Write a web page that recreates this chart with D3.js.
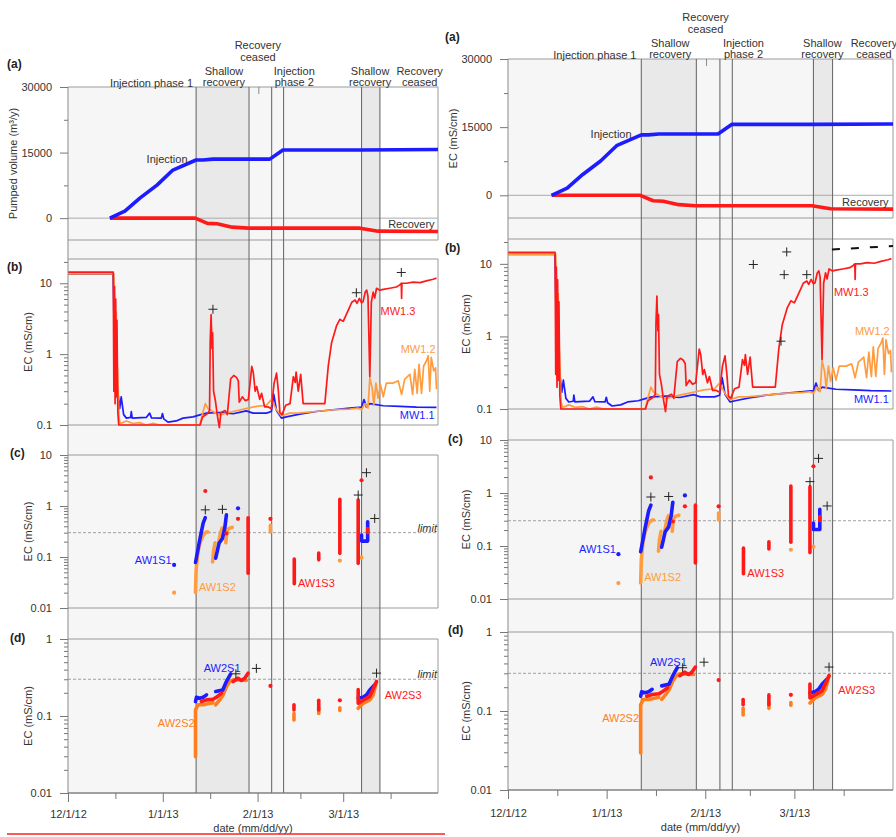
<!DOCTYPE html>
<html>
<head>
<meta charset="utf-8">
<script src="https://cdnjs.cloudflare.com/ajax/libs/d3/7.8.5/d3.min.js"></script>
<style>
  body { margin: 0; background: #fff; }
  svg { display: block; }
</style>
</head>
<body>
<svg id="chart" width="896" height="837"></svg>
<script>
// ---------------------------------------------------------------------------
// Data. Times are days elapsed since 1 Dec 2012.
// ---------------------------------------------------------------------------
const recordStart = new Date(2012, 11, 1);
const recordEnd = new Date(2013, 3, 1);

// Operational phase boundaries (vertical lines) and shaded shallow-recovery periods
const phaseBoundaries = [41.9, 59.2, 66.6, 70.5, 96.0, 102.0];
const shallowRecovery = [[41.9, 59.2], [96.0, 102.0]];
const recoveryCeasedMark = 62.4;
const monitoredUntil = 102.0;

// Phase captions: [text lines, day at caption centre, level (0 = single line, 1 = two lines, 2 = raised)]
const phaseCaptions = [
  [["Injection phase 1"], 27.3, 0],
  [["Shallow", "recovery"], 51.0, 1],
  [["Recovery", "ceased"], 62.1, 2],
  [["Injection", "phase 2"], 74.0, 1],
  [["Shallow", "recovery"], 98.8, 1],
  [["Recovery", "ceased"], 115.0, 1]
];

// Date axis
const monthTicks = [new Date(2012, 11, 1), new Date(2013, 0, 1), new Date(2013, 1, 1), new Date(2013, 2, 1)];
const monthLabels = ["12/1/12", "1/1/13", "2/1/13", "3/1/13"];
const midMonthTicks = [new Date(2012, 11, 16, 12), new Date(2013, 0, 16, 12), new Date(2013, 1, 15), new Date(2013, 2, 16, 12)];

// (a) cumulative pumped volume (m3/y)
const volumeDomain = [-5000, 30000];
const volumeTicks = [0, 15000, 30000];
const volumeMinorTicks = [7500, 22500];
const injectionVolume = [[13.7, 0], [18.6, 1600], [23.5, 4580], [29.1, 7560], [34.3, 11000], [41.9, 13300], [44.1, 13300],
  [47.4, 13500], [66.0, 13500], [70.3, 15600], [95.5, 15600], [121, 15700]];
const recoveryVolume = [[13.7, 0], [41.6, 0], [45.6, -1200], [48.8, -1300], [53.7, -2060], [58.9, -2290], [95.5, -2290],
  [101.4, -2980], [121, -3050]];

// (b) EC in monitoring well MW1 (mS/cm)
const ecDomainB = [0.1, 22];
const mw11 = [[0, 13.5], [14.8, 13.5], [15.3, 0.46], [16.4, 0.27], [16.9, 0.17], [17.4, 0.25], [18.2, 0.14], [19.1, 0.125],
  [20.5, 0.128], [20.7, 0.155], [21.0, 0.125], [25.6, 0.128], [26.7, 0.147], [27.3, 0.126], [30.5, 0.125], [30.9, 0.145],
  [31.3, 0.122], [32.7, 0.11], [35.4, 0.114], [37.6, 0.125], [40.9, 0.13], [43.1, 0.139], [45.3, 0.147], [49.6, 0.15],
  [54.0, 0.144], [58.3, 0.158], [60.5, 0.147], [64.9, 0.147], [66.5, 0.155], [67.3, 0.27], [68.2, 0.16], [69.8, 0.125],
  [71.4, 0.13], [75.8, 0.142], [81.2, 0.155], [86.7, 0.164], [92.1, 0.173], [96.0, 0.179], [96.8, 0.228], [97.6, 0.18],
  [98.7, 0.2], [103.1, 0.187], [108.5, 0.183], [114.0, 0.179], [120.5, 0.177]];
const mw12 = [[0, 13.6], [15.0, 13.6], [15.4, 3.7], [15.8, 3.9], [16.1, 0.72], [16.7, 0.125], [17.1, 0.105], [19.1, 0.114],
  [21.3, 0.105], [23.4, 0.108], [25.6, 0.1], [27.8, 0.106], [30.0, 0.1], [43.1, 0.1], [44.2, 0.155], [44.9, 0.2],
  [45.8, 0.17], [47.4, 0.155], [49.6, 0.139], [54.0, 0.155], [58.9, 0.173], [61.6, 0.183], [64.9, 0.19], [66.5, 0.228],
  [68.2, 0.164], [69.8, 0.134], [72.5, 0.147], [75.8, 0.148], [81.2, 0.155], [86.7, 0.164], [92.1, 0.168], [94.9, 0.173],
  [96.0, 0.164], [97.1, 0.2], [98.1, 0.173], [98.7, 0.46], [99.5, 0.33], [100.0, 0.19], [100.7, 0.39], [101.4, 0.24],
  [102.2, 0.37], [103.1, 0.25], [104.1, 0.39], [106.3, 0.39], [108.0, 0.42], [109.1, 0.27], [110.1, 0.44], [111.8, 0.52],
  [112.7, 0.27], [113.4, 0.61], [114.2, 0.28], [114.8, 0.72], [115.6, 0.28], [116.3, 0.68], [117.2, 0.8], [117.8, 0.95],
  [118.3, 0.3], [118.8, 0.9], [119.6, 0.58], [120.2, 0.64], [120.5, 0.32]];
const mw13 = [[0, 14.4], [14.8, 14.4], [15.0, 0.3], [15.2, 9], [15.4, 0.2], [15.6, 6], [15.8, 0.25], [16.0, 3], [16.3, 0.15],
  [16.6, 0.1], [43.2, 0.1], [44.0, 0.13], [45.6, 0.145], [46.3, 0.16], [46.5, 1.5], [46.8, 3.6], [47.1, 1.2], [47.3, 2.0],
  [47.6, 0.3], [48.2, 0.22], [48.8, 0.14], [49.5, 0.092], [50.0, 0.15], [51.4, 0.16], [52.1, 0.14], [53.2, 0.45],
  [54.2, 0.5], [55.1, 0.47], [55.7, 0.42], [56.0, 0.21], [57.0, 0.25], [58.0, 0.22], [59.0, 0.23], [60.1, 0.67],
  [60.6, 0.55], [61.2, 0.3], [61.7, 0.35], [62.7, 0.23], [63.3, 0.28], [64.3, 0.18], [65.5, 0.18], [66.5, 0.17],
  [67.4, 0.39], [68.2, 0.54], [68.8, 0.3], [69.3, 0.15], [70.0, 0.14], [71.2, 0.19], [72.6, 0.2], [73.7, 0.48],
  [74.3, 0.4], [74.6, 0.56], [75.3, 0.3], [76.1, 0.52], [76.9, 0.2], [78.0, 0.2], [84.0, 0.2], [85.1, 0.67], [86.2, 1.45],
  [87.8, 2.5], [88.9, 3.1], [90.0, 2.9], [91.7, 4.2], [92.8, 5.4], [93.9, 5.8], [94.5, 5.2], [95.3, 6.1], [96.0, 5.3],
  [96.5, 5.5], [97.2, 7.5], [97.7, 8.0], [98.1, 6.5], [98.7, 0.48], [99.2, 5.4], [99.8, 7.5], [100.3, 6.2], [100.9, 8.5],
  [102.0, 8.0], [103.1, 8.2], [105.2, 8.5], [107.4, 8.85], [108.5, 9.5], [109.0, 10.0], [109.1, 6.1], [109.2, 10.0],
  [110.7, 10.0], [112.9, 10.4], [115.1, 10.2], [117.2, 10.8], [119.4, 11.4], [120.5, 11.8]];
const plusB = [[[47.4, 4.3], [94.3, 7.35], [109.0, 14.2]],
               [[77.1, 9.8], [87.6, 14.6], [86.8, 7.1], [93.9, 7.1], [85.8, 0.86]]];
const topDashB = [[101.8, 15.8], [121, 17.6]];

// (c) EC in ASR well 1 screens (mS/cm); each inner list is one logged run
const ecDomainC = [0.01, 10];
const salinityLimit = 0.3;
const aw1s1 = [[[34.7, 0.07]],
  [[41.7, 0.078], [43.1, 0.22], [44.2, 0.46], [44.9, 0.59]],
  [[48.3, 0.095], [49.4, 0.186], [50.5, 0.23], [51.3, 0.38], [51.8, 0.67]],
  [[55.6, 0.9]],
  [[96.0, 0.27], [96.0, 0.205], [98.0, 0.205], [98.0, 0.49]]];
const aw1s2 = [[[34.7, 0.02]],
  [[41.7, 0.02], [41.9, 0.056], [42.4, 0.118], [43.1, 0.186], [44.2, 0.27], [45.3, 0.31], [45.8, 0.31]],
  [[47.3, 0.08], [47.6, 0.13], [48.1, 0.19]],
  [[49.3, 0.2], [49.9, 0.3], [50.4, 0.37]],
  [[51.6, 0.19], [51.9, 0.3], [52.3, 0.35], [53.0, 0.37], [53.7, 0.38]],
  [[66.2, 0.31], [66.2, 0.42]],
  [[88.9, 0.085]],
  [[96.0, 0.097]]];
const aw1s3 = [[[44.9, 1.97]], [[51.8, 0.29]], [[55.6, 0.56]],
  [[58.9, 0.59], [58.9, 0.048]],
  [[66.2, 0.56]],
  [[74.0, 0.091], [74.0, 0.030]],
  [[82.0, 0.12], [82.0, 0.088]],
  [[88.9, 1.35], [88.9, 0.118]],
  [[94.9, 1.31], [94.9, 0.075]],
  [[96.0, 3.2]],
  [[98.0, 0.3], [98.0, 0.36]]];
const plusC = [[44.9, 0.84], [50.5, 0.86], [94.9, 1.64], [97.6, 4.5], [100.3, 0.57]];

// (d) EC in ASR well 2 screens (mS/cm)
const ecDomainD = [0.01, 1];
const aw2s1 = [
  [[41.7, 0.154], [42.0, 0.175], [43.1, 0.17], [44.2, 0.175], [45.3, 0.188]],
  [[48.3, 0.208], [50.6, 0.218], [51.8, 0.28], [53.2, 0.353]],
  [[94.9, 0.17], [96.5, 0.175], [97.6, 0.188], [98.7, 0.218], [100.3, 0.254]]];
const aw2s2 = [
  [[41.7, 0.0295], [41.7, 0.12], [42.5, 0.14], [44.2, 0.14], [45.3, 0.143], [47.4, 0.149]],
  [[48.3, 0.14], [49.6, 0.162], [50.7, 0.188], [51.8, 0.24], [52.9, 0.28], [54.0, 0.295], [56.2, 0.295], [58.3, 0.29]],
  [[73.9, 0.108], [73.9, 0.089]],
  [[82.0, 0.126], [82.0, 0.108]],
  [[88.9, 0.128], [88.9, 0.118]],
  [[94.9, 0.126], [96.5, 0.146], [98.7, 0.162], [99.8, 0.188], [100.9, 0.28]]];
const aw2s3 = [
  [[43.6, 0.154], [45.3, 0.162], [47.4, 0.165], [48.5, 0.175], [50.2, 0.198]],
  [[54.0, 0.28], [55.6, 0.31], [56.7, 0.29], [57.8, 0.31], [58.9, 0.36]],
  [[66.2, 0.246]],
  [[73.9, 0.14], [73.9, 0.12]],
  [[82.0, 0.16], [82.0, 0.12]],
  [[88.9, 0.16]],
  [[94.9, 0.22], [94.9, 0.146], [96.5, 0.16], [98.7, 0.18], [100.9, 0.28]]];
const plusD = [[54.9, 0.353], [61.6, 0.415], [100.9, 0.36]];

// Series captions: [text, day, value, anchor]
const captionsA = [["Injection", 32.4, 13500, "middle"], ["Recovery", 112.3, -1450, "middle"]];
const captionsB = [["MW1.3", 107.9, 4.1, "middle"], ["MW1.2", 114.5, 1.18, "middle"], ["MW1.1", 114.2, 0.138, "middle"]];
const captionsC = [["AW1S1", 33.9, 0.087, "end"], ["AW1S2", 42.8, 0.026, "start"], ["AW1S3", 75.2, 0.031, "start"]];
const captionsD = [["AW2S1", 50.4, 0.42, "middle"], ["AW2S2", 35.4, 0.081, "middle"], ["AW2S3", 109.6, 0.186, "middle"]];

// ---------------------------------------------------------------------------
// Layout of the two chart columns
// ---------------------------------------------------------------------------
const columns = [
  { x0: 68, x1: 438, a: [87, 240], b: [259, 425], c: [455, 608], d: [639, 793],
    tickLabelY: 818, dateTitleY: 832, titleAx: 13, titleEcx: 28, titleA: "Pumped volume (m³/y)",
    letterX: [7, 7, 10, 10], letterDy: [-23, 8, -2, -1], plus: 0, dash: false, limitText: true },
  { x0: 508, x1: 893, a: [59, 218], b: [239, 409], c: [440, 599], d: [632, 790],
    tickLabelY: 817, dateTitleY: 831, titleAx: 453, titleEcx: 466, titleA: "EC (mS/cm)",
    letterX: [445, 445, 448, 448], letterDy: [-22, 9, -1, -2], plus: 1, dash: true, limitText: false }
];

const FONT = "'Liberation Sans', Arial, Helvetica, sans-serif";
const BLUE = "#1c1cff", RED = "#ff1a1a", ORANGE = "#ff9c40", ORANGE_D = "#ff7f1f";
const INK = "#333", FRAME = "#9a9a9a", EVENT = "#6e6e6e";

const svg = d3.select("#chart").attr("font-family", FONT);
const toDate = d => new Date(recordStart.getTime() + d * 864e5);

columns.forEach(col => {
  const g = svg.append("g");
  const x = d3.scaleTime().domain([recordStart, recordEnd]).range([col.x0, col.x1]);
  const X = d => x(toDate(d));
  const y = {
    a: d3.scaleLinear().domain(volumeDomain).range([col.a[1], col.a[0]]),
    b: d3.scaleLog().domain(ecDomainB).range([col.b[1], col.b[0]]),
    c: d3.scaleLog().domain(ecDomainC).range([col.c[1], col.c[0]]),
    d: d3.scaleLog().domain(ecDomainD).range([col.d[1], col.d[0]])
  };
  const top = col.a[0], bottom = col.d[1];

  // monitored period background and shaded shallow-recovery periods
  g.append("rect").attr("x", col.x0).attr("y", top)
    .attr("width", X(monitoredUntil) - col.x0).attr("height", bottom - top).attr("fill", "#f6f6f6");
  g.selectAll("rect.shade").data(shallowRecovery).join("rect").attr("class", "shade")
    .attr("x", d => X(d[0])).attr("y", top).attr("width", d => X(d[1]) - X(d[0]))
    .attr("height", bottom - top).attr("fill", "#e9e9e9");

  // panel frames
  ["a", "b", "c", "d"].forEach(k => {
    const [t, b] = col[k];
    g.append("path").attr("d", `M${col.x0},${t}H${col.x1}V${b}H${col.x0}`)
      .attr("fill", "none").attr("stroke", FRAME).attr("stroke-width", 1);
  });
  // zero line in (a), salinity limit in (c) and (d)
  g.append("line").attr("x1", col.x0).attr("x2", col.x1).attr("y1", y.a(0)).attr("y2", y.a(0))
    .attr("stroke", "#aaa").attr("stroke-width", 1);
  ["c", "d"].forEach(k => {
    g.append("line").attr("x1", col.x0).attr("x2", col.x1)
      .attr("y1", y[k](salinityLimit)).attr("y2", y[k](salinityLimit))
      .attr("stroke", "#8c8c8c").attr("stroke-width", 0.8).attr("stroke-dasharray", "3,2");
    if (col.limitText) {
      g.append("text").attr("x", col.x1 - 1).attr("y", y[k](salinityLimit) - 1)
        .attr("text-anchor", "end").attr("font-size", 11).attr("font-style", "italic")
        .attr("fill", INK).text("limit");
    }
  });

  // phase boundary lines
  g.selectAll("line.event").data(phaseBoundaries).join("line").attr("class", "event")
    .attr("x1", d => X(d)).attr("x2", d => X(d)).attr("y1", top).attr("y2", bottom)
    .attr("stroke", EVENT).attr("stroke-width", 1.1);
  g.append("line").attr("x1", X(recoveryCeasedMark)).attr("x2", X(recoveryCeasedMark))
    .attr("y1", top).attr("y2", top + 7).attr("stroke", EVENT).attr("stroke-width", 0.8);

  // (a) pumped volumes
  const lineA = d3.line().x(d => X(d[0])).y(d => y.a(d[1]));
  [[recoveryVolume, RED], [injectionVolume, BLUE]].forEach(([s, c]) => {
    g.append("path").datum(s).attr("d", lineA).attr("fill", "none").attr("stroke", c)
      .attr("stroke-width", 3.6).attr("stroke-linejoin", "round");
  });

  // (b) MW1 EC records
  const lineB = d3.line().x(d => X(d[0])).y(d => y.b(d[1]));
  [[mw11, BLUE], [mw12, ORANGE], [mw13, RED]].forEach(([s, c]) => {
    g.append("path").datum(s).attr("d", lineB).attr("fill", "none").attr("stroke", c)
      .attr("stroke-width", 1.7).attr("stroke-linejoin", "round");
  });
  if (col.dash) {
    g.append("path").datum(topDashB).attr("d", lineB).attr("fill", "none").attr("stroke", "#111")
      .attr("stroke-width", 2).attr("stroke-dasharray", "8,11");
  }

  // (c), (d) ASR well screens: runs as thick strokes, single readings as dots
  const drawRuns = (runs, k, color) => {
    const ln = d3.line().x(d => X(d[0])).y(d => y[k](d[1]));
    runs.filter(r => r.length > 1).forEach(r => {
      g.append("path").datum(r).attr("d", ln).attr("fill", "none").attr("stroke", color)
        .attr("stroke-width", 3.6).attr("stroke-linecap", "round").attr("stroke-linejoin", "round");
    });
    g.selectAll(null).data(runs.filter(r => r.length === 1)).join("circle")
      .attr("cx", r => X(r[0][0])).attr("cy", r => y[k](r[0][1])).attr("r", 2.1).attr("fill", color);
  };
  drawRuns(aw1s2, "c", ORANGE);
  drawRuns(aw1s1, "c", BLUE);
  drawRuns(aw1s3, "c", RED);
  drawRuns(aw2s2, "d", ORANGE_D);
  drawRuns(aw2s1, "d", BLUE);
  drawRuns(aw2s3, "d", RED);

  // grab-sample markers
  const plus = (pts, k) => g.selectAll(null).data(pts).join("path")
    .attr("transform", d => `translate(${X(d[0])},${y[k](d[1])})`)
    .attr("d", "M-4.5,0H4.5M0,-4.5V4.5").attr("stroke", "#222").attr("stroke-width", 1).attr("fill", "none");
  plus(plusB[col.plus], "b");
  plus(plusC, "c");
  plus(plusD, "d");

  // y axes
  g.append("line").attr("x1", col.x0).attr("x2", col.x0).attr("y1", top).attr("y2", bottom)
    .attr("stroke", "#8a8a8a");
  const styleAxis = sel => {
    sel.select(".domain").remove();
    sel.attr("font-family", FONT).attr("font-size", 11);
    sel.selectAll("line").attr("stroke", "#777");
    sel.selectAll("text").attr("fill", INK);
  };
  const leftAxis = (scale, major, minor, fmt) => {
    g.append("g").attr("transform", `translate(${col.x0},0)`)
      .call(d3.axisLeft(scale).tickValues(minor).tickSize(4).tickFormat(""))
      .call(styleAxis);
    g.append("g").attr("transform", `translate(${col.x0},0)`)
      .call(d3.axisLeft(scale).tickValues(major).tickSize(8).tickPadding(8).tickFormat(fmt))
      .call(styleAxis);
  };
  const decades = dom => d3.range(Math.round(Math.log10(dom[0])), Math.round(Math.log10(dom[1])) + 1)
    .map(e => +Math.pow(10, e).toPrecision(1)).filter(v => v >= dom[0] && v <= dom[1]);
  const minors = scale => scale.ticks().filter(v => !decades(scale.domain()).includes(+v.toPrecision(1)));
  leftAxis(y.a, volumeTicks, volumeMinorTicks, d3.format("d"));
  ["b", "c", "d"].forEach(k => leftAxis(y[k], decades(y[k].domain()), minors(y[k]), d3.format("~g")));

  // date axis
  const pad = col.tickLabelY - bottom - 9 - 8;
  g.append("g").attr("transform", `translate(0,${bottom})`)
    .call(d3.axisBottom(x).tickValues(midMonthTicks).tickSize(6).tickFormat(""))
    .call(styleAxis);
  g.append("g").attr("transform", `translate(0,${bottom})`)
    .call(d3.axisBottom(x).tickValues(monthTicks).tickSize(9).tickPadding(pad)
      .tickFormat((d, i) => monthLabels[i]))
    .call(styleAxis);
  g.append("line").attr("x1", col.x0).attr("x2", col.x1).attr("y1", bottom).attr("y2", bottom)
    .attr("stroke", "#777");
  g.append("text").attr("x", (col.x0 + col.x1) / 2).attr("y", col.dateTitleY)
    .attr("text-anchor", "middle").attr("font-size", 11).attr("fill", INK).text("date (mm/dd/yy)");

  // axis titles
  const vTitle = (tx, cy, text) => g.append("text")
    .attr("transform", `translate(${tx},${cy}) rotate(-90)`).attr("text-anchor", "middle")
    .attr("dominant-baseline", "central").attr("font-size", 11).attr("fill", INK).text(text);
  vTitle(col.titleAx, (col.a[0] + col.a[1]) / 2, col.titleA);
  ["b", "c", "d"].forEach(k => vTitle(col.titleEcx, (col[k][0] + col[k][1]) / 2, "EC (mS/cm)"));

  // panel letters
  ["a", "b", "c", "d"].forEach((k, i) => {
    g.append("text").attr("x", col.letterX[i]).attr("y", col[k][0] + col.letterDy[i])
      .attr("dominant-baseline", "central").attr("font-size", 12).attr("font-weight", "bold")
      .attr("fill", "#222").text(`(${k})`);
  });

  // phase captions above panel (a)
  phaseCaptions.forEach(([lines, dday, level]) => {
    const offs = level === 0 ? [-4] : level === 1 ? [-16.5, -5] : [-42.5, -30.5];
    lines.forEach((t, i) => {
      g.append("text").attr("x", X(dday)).attr("y", top + offs[i]).attr("text-anchor", "middle")
        .attr("dominant-baseline", "central").attr("font-size", 11).attr("fill", INK).text(t);
    });
  });

  // series captions
  const caption = (list, k, colors) => list.forEach(([t, dday, v, anchor], i) => {
    g.append("text").attr("x", X(dday)).attr("y", y[k](v)).attr("text-anchor", anchor)
      .attr("dominant-baseline", "central").attr("font-size", 11).attr("fill", colors[i]).text(t);
  });
  caption(captionsA, "a", [INK, INK]);
  caption(captionsB, "b", [RED, ORANGE, BLUE]);
  caption(captionsC, "c", [BLUE, ORANGE, RED]);
  caption(captionsD, "d", [BLUE, ORANGE_D, RED]);
});

// underline beneath the left column
svg.append("line").attr("x1", 7).attr("x2", 445).attr("y1", 834).attr("y2", 834)
  .attr("stroke", "#ff2020").attr("stroke-width", 1.5);
</script>
</body>
</html>
